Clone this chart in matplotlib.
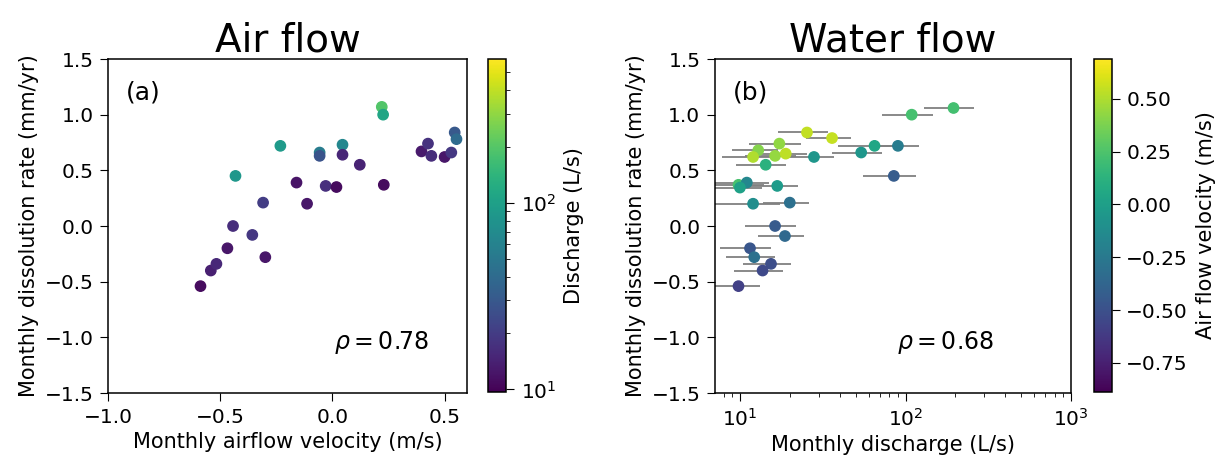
import numpy as np
import matplotlib
matplotlib.use("Agg")
from matplotlib import pyplot as plt
from matplotlib.colors import LogNorm, Normalize

# (a) airflow velocity vs dissolution rate, coloured by discharge
air_velocity = [-0.588, -0.542, -0.517, -0.468, -0.443, -0.432, -0.357, -0.309, -0.299,
                -0.232, -0.160, -0.113, -0.057, -0.057, -0.030, 0.018, 0.045, 0.045,
                0.122, 0.220, 0.226, 0.229, 0.397, 0.426, 0.441, 0.500, 0.530, 0.545, 0.553]
air_rate = [-0.54, -0.40, -0.34, -0.20, 0.00, 0.45, -0.08, 0.21, -0.28,
            0.72, 0.39, 0.20, 0.66, 0.63, 0.36, 0.35, 0.73, 0.64,
            0.55, 1.07, 1.00, 0.37, 0.67, 0.74, 0.63, 0.62, 0.66, 0.84, 0.78]
air_discharge = [11, 14, 15.4, 12.5, 16.3, 85, 18.7, 20, 12.5,
                 90, 12, 12.5, 54, 28, 16.8, 11, 65, 15,
                 14.3, 195, 109, 11, 12.9, 17.3, 16.3, 12.5, 18.9, 30, 40]

# (b) discharge vs dissolution rate, coloured by airflow velocity
water_discharge = [195, 109, 25.4, 36, 17.3, 12.9, 12, 16.3, 18.9, 14.3, 28, 54, 65, 90,
                   85, 9.8, 11, 10, 16.8, 12, 20, 16.3, 18.7, 11.5, 12.2, 15.4, 13.7, 9.8]
water_discharge_err = [66, 37, 8.5, 11, 6, 4, 4.2, 5.5, 6.5, 4.8, 9, 18, 26, 30,
                       30, 4.2, 4, 3.5, 5.5, 5.5, 6.3, 5.6, 5.8, 3.9, 4, 5, 4.5, 3.4]
water_rate = [1.06, 1.00, 0.84, 0.79, 0.74, 0.68, 0.62, 0.63, 0.65, 0.55, 0.62, 0.66, 0.72, 0.72,
              0.45, 0.37, 0.39, 0.345, 0.36, 0.20, 0.21, 0.00, -0.09, -0.20, -0.28, -0.34, -0.40, -0.54]
water_velocity = [0.22, 0.226, 0.545, 0.553, 0.426, 0.397, 0.50, 0.441, 0.53, 0.122, -0.057, -0.057,
                  0.045, -0.232, -0.432, 0.229, -0.16, 0.018, -0.03, -0.113, -0.309, -0.443,
                  -0.357, -0.468, -0.299, -0.517, -0.542, -0.588]

plt.rcParams['font.family'] = 'DejaVu Sans'
plt.rcParams['font.size'] = 14.5
plt.rcParams['axes.labelsize'] = 15
for axis in ('xtick', 'ytick'):
    plt.rcParams[axis + '.major.size'] = 5.5
    plt.rcParams[axis + '.major.pad'] = 5
    plt.rcParams[axis + '.minor.size'] = 3

fig = plt.figure(figsize=(12.21, 4.61), dpi=100)
ax1 = fig.add_axes([0.0885, 0.1475, 0.294, 0.7245])
cax1 = fig.add_axes([0.3999, 0.1500, 0.0145, 0.7230])
ax2 = fig.add_axes([0.5856, 0.1475, 0.2916, 0.7245])
cax2 = fig.add_axes([0.8960, 0.1500, 0.0145, 0.7230])

sc1 = ax1.scatter(air_velocity, air_rate, c=air_discharge, cmap='viridis',
                  norm=LogNorm(vmin=9.7, vmax=593), s=55, zorder=3)
ax1.set_xlim(-1.0, 0.6)
ax1.set_ylim(-1.5, 1.5)
ax1.set_xticks([-1.0, -0.5, 0.0, 0.5])
ax1.set_yticks([-1.5, -1.0, -0.5, 0.0, 0.5, 1.0, 1.5])
ax1.set_xlabel('Monthly airflow velocity (m/s)', labelpad=4)
ax1.set_ylabel('Monthly dissolution rate (mm/yr)', labelpad=4)
ax1.set_title('Air flow', fontsize=28, pad=5)
ax1.text(0.05, 0.9, '(a)', transform=ax1.transAxes, fontsize=18, va='center')
ax1.text(0.63, 0.15, r'$\rho = 0.78$', transform=ax1.transAxes, fontsize=17, va='center')
cb1 = fig.colorbar(sc1, cax=cax1)
cb1.set_label('Discharge (L/s)', labelpad=6)

ax2.errorbar(water_discharge, water_rate, xerr=water_discharge_err, fmt='none',
             ecolor='gray', elinewidth=1.3, capsize=0, zorder=2)
sc2 = ax2.scatter(water_discharge, water_rate, c=water_velocity, cmap='viridis',
                  norm=Normalize(vmin=-0.887, vmax=0.69), s=55, zorder=3)
ax2.set_xscale('log')
ax2.set_xlim(7.07, 1000)
ax2.set_ylim(-1.5, 1.5)
ax2.set_yticks([-1.5, -1.0, -0.5, 0.0, 0.5, 1.0, 1.5])
ax2.set_xlabel('Monthly discharge (L/s)', labelpad=4)
ax2.set_ylabel('Monthly dissolution rate (mm/yr)', labelpad=4)
ax2.set_title('Water flow', fontsize=28, pad=5)
ax2.text(0.05, 0.9, '(b)', transform=ax2.transAxes, fontsize=18, va='center')
ax2.text(0.51, 0.15, r'$\rho = 0.68$', transform=ax2.transAxes, fontsize=17, va='center')
cb2 = fig.colorbar(sc2, cax=cax2)
cb2.set_ticks([-0.75, -0.5, -0.25, 0.0, 0.25, 0.5])
cb2.set_label('Air flow velocity (m/s)', labelpad=6)

for ax in (ax1, ax2, cax1, cax2):
    for sp in ax.spines.values():
        sp.set_linewidth(1.1)

plt.savefig('out.png', dpi=100)
